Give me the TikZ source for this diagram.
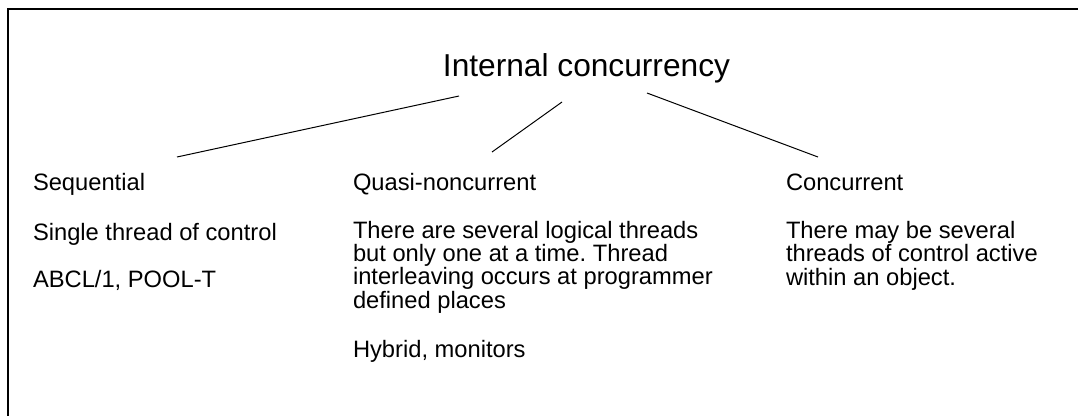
\documentclass[tikz,border=0pt]{standalone}
\usepackage{fontspec}
\setmainfont{Liberation Sans}
\frenchspacing
\begin{document}
\begin{tikzpicture}[x=1bp,y=-1bp,
  every node/.style={inner sep=0pt, outer sep=0pt},
  heading/.style={anchor=base, font=\fontsize{31.8}{36}\selectfont},
  label/.style={anchor=base west, align=left, font=\fontsize{23.8}{23.4}\selectfont},
  frame/.style={line width=2bp, line cap=rect},
  branch/.style={line width=1bp}]
\useasboundingbox (0,0) rectangle (1078,415);
% open frame: top and left edges only
\draw[frame] (8,415) -- (8,9) -- (1078,9);
% root
\node[heading] (root) at (586.5,76) {Internal concurrency};
% columns (multi-line labels are placed by the baseline of their last line)
\node[label] (seq) at (33,190) {Sequential};
\node[label] (seqdesc) at (33,240) {Single thread of control};
\node[label] (seqex) at (33,287) {ABCL/1, POOL-T};
\node[label] (quasi) at (353,190) {Quasi-noncurrent};
\node[label] (quasidesc) at (353,308) {There are several logical threads\\but only one at a time. Thread\\interleaving occurs at programmer\\defined places};
\node[label] (quasiex) at (353,357) {Hybrid, monitors};
\node[label] (conc) at (786,190) {Concurrent};
\node[label] (concdesc) at (786,285) {There may be several\\threads of control active\\within an object.};
% branch end points
\coordinate (r1) at (459,96);
\coordinate (r2) at (562,102);
\coordinate (r3) at (647,93);
\coordinate (s1) at (177,157);
\coordinate (s2) at (492,152);
\coordinate (s3) at (818,157);
\draw[branch] (r1) -- (s1);
\draw[branch] (r2) -- (s2);
\draw[branch] (r3) -- (s3);
\end{tikzpicture}
\end{document}
